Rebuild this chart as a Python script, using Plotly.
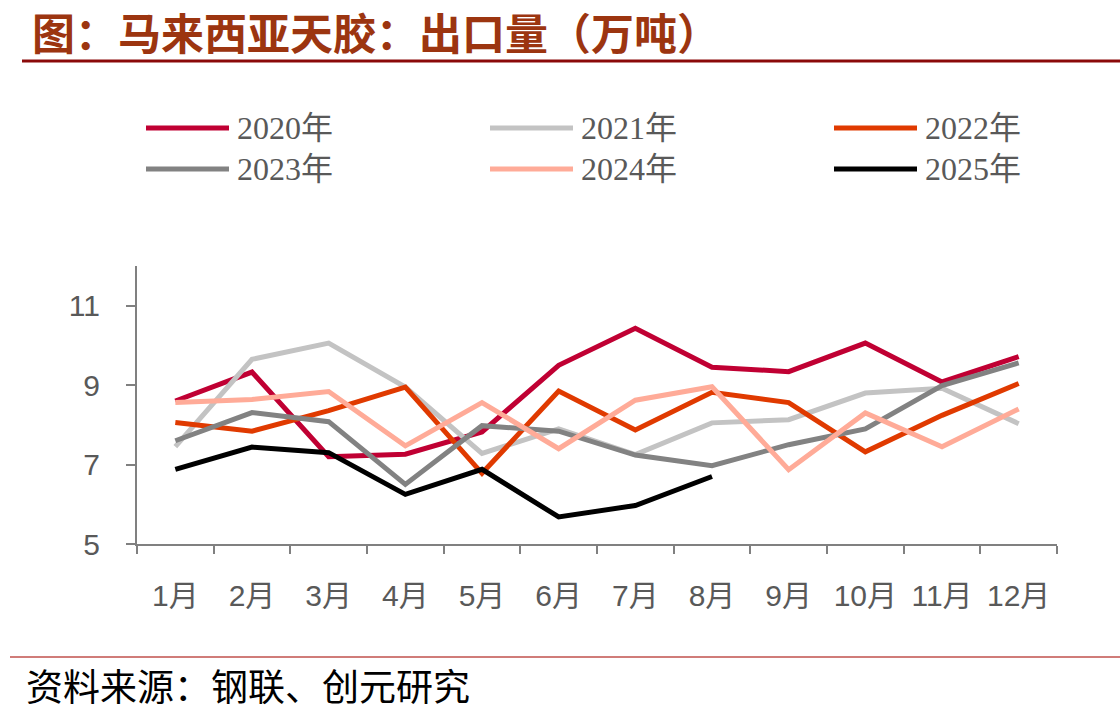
import plotly.graph_objects as go

W, H = 1120, 716

months = ['1月', '2月', '3月', '4月', '5月', '6月', '7月', '8月', '9月', '10月', '11月', '12月']
years = ['2020年', '2021年', '2022年', '2023年', '2024年', '2025年']

v2020 = [8.60, 9.33, 7.20, 7.26, 7.82, 9.50, 10.43, 9.45, 9.34, 10.06, 9.08, 9.72]
v2021 = [7.45, 9.65, 10.06, 8.95, 7.28, 7.90, 7.25, 8.05, 8.13, 8.80, 8.92, 8.03]
v2022 = [8.06, 7.84, 8.36, 8.95, 6.78, 8.85, 7.87, 8.82, 8.56, 7.32, 8.24, 9.04]
v2023 = [7.60, 8.31, 8.08, 6.50, 7.98, 7.84, 7.24, 6.97, 7.50, 7.90, 8.99, 9.56]
v2024 = [8.56, 8.64, 8.84, 7.47, 8.56, 7.40, 8.62, 8.96, 6.87, 8.30, 7.45, 8.40]
v2025 = [6.88, 7.44, 7.30, 6.25, 6.88, 5.68, 5.97, 6.70]

colors = ['#C00033', '#C3C3C3', '#E03A00', '#828282', '#FFAB98', '#000000']
series = [v2020, v2021, v2022, v2023, v2024, v2025]

def px(x):
    return x / W

def py(y):
    return 1 - y / H

fig = go.Figure()
for name, vals, c in zip(years, series, colors):
    fig.add_trace(go.Scatter(
        x=months[:len(vals)], y=vals, name=name, mode='lines',
        line=dict(color=c, width=5), showlegend=False,
    ))

shapes = []
annotations = []

# manual legend (3 columns x 2 rows)
for i, (name, c) in enumerate(zip(years, colors)):
    col, row = i % 3, i // 3
    x0 = 146 + col * 344
    yy = 128 + row * 41
    shapes.append(dict(type='line', xref='paper', yref='paper',
                       x0=px(x0), x1=px(x0 + 83), y0=py(yy), y1=py(yy),
                       line=dict(color=c, width=5)))
    annotations.append(dict(xref='paper', yref='paper', x=px(x0 + 89), y=py(yy),
                            text=name, showarrow=False, xanchor='left', yanchor='middle',
                            font=dict(family='Liberation Serif, Noto Sans CJK SC', size=32, color='#595959')))

# title
annotations.append(dict(xref='paper', yref='paper', x=px(31), y=py(31),
                        text='<b>图：马来西亚天胶：出口量（万吨）</b>', showarrow=False,
                        xanchor='left', yanchor='middle', borderpad=0,
                        font=dict(family='Noto Sans CJK SC', size=43, color='#9C3510')))
shapes.append(dict(type='line', xref='paper', yref='paper', x0=px(22), x1=1,
                   y0=py(61), y1=py(61), line=dict(color='#8B0A0A', width=3)))

# footer
shapes.append(dict(type='line', xref='paper', yref='paper', x0=px(10), x1=1,
                   y0=py(657), y1=py(657), line=dict(color='#C0504D', width=1.5)))
annotations.append(dict(xref='paper', yref='paper', x=px(24), y=py(685),
                        text='资料来源：钢联、创元研究', showarrow=False,
                        xanchor='left', yanchor='middle',
                        font=dict(family='Noto Sans CJK SC', size=37, color='#000000')))

axis_common = dict(showline=True, linecolor='#808080', linewidth=2,
                   ticks='outside', tickcolor='#808080', tickwidth=2,
                   showgrid=False, zeroline=False, automargin=False,
                   tickfont=dict(family='Liberation Sans, Noto Sans CJK SC', size=30, color='#595959'))

fig.update_layout(
    width=W, height=H,
    margin=dict(l=0, r=0, t=0, b=0),
    paper_bgcolor='white', plot_bgcolor='white',
    xaxis=dict(domain=[px(137), px(1057)], type='category', tickson='boundaries',
               ticklen=8, range=[-0.5, 11.5], ticklabelstandoff=24, **axis_common),
    yaxis=dict(domain=[py(544), py(266)], range=[5, 12], tickvals=[5, 7, 9, 11],
               ticklen=9, ticklabelstandoff=20, **axis_common),
    shapes=shapes, annotations=annotations,
)

fig.write_html('out.html')
